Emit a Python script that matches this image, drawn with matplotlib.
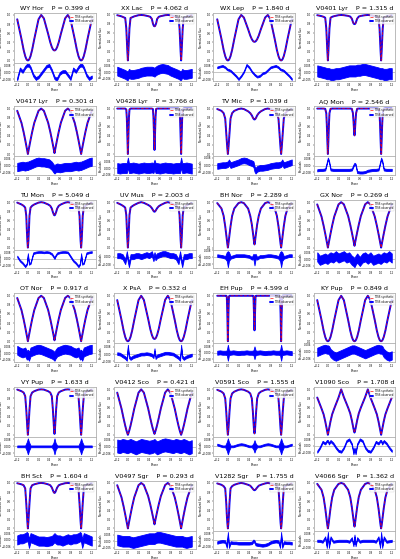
import numpy as np
import matplotlib
matplotlib.use("Agg")
import matplotlib.pyplot as plt

# ---------------- data ----------------
# light curve knots over half a period (mirrored for 0.5..1)
HALF_PHASE = [0, .01, .02, .03, .05, .08, .12, .2, .25, .3, .38, .42, .45, .47, .48, .49, .5]
# residual knots over one full period
RES_PHASE = [0, .02, .05, .1, .15, .2, .25, .3, .35, .4, .45, .48, .5, .52, .55, .6,
             .65, .7, .75, .8, .85, .9, .95, .98, 1]

NAMES = ["WY Hor", "XX Lac", "WX Lep", "V0401 Lyr",
         "V0417 Lyr", "V0428 Lyr", "TV Mic", "AQ Mon",
         "TU Mon", "UV Mus", "BH Nor", "GX Nor",
         "OT Nor", "X PsA", "EH Pup", "KY Pup",
         "VY Pup", "V0412 Sco", "V0591 Sco", "V1090 Sco",
         "BH Sct", "V0497 Sgr", "V1282 Sgr", "V4066 Sgr"]
PERIODS = [0.399, 4.062, 1.840, 1.315,
           0.301, 3.766, 1.039, 2.546,
           5.049, 2.003, 2.289, 0.269,
           0.917, 0.332, 4.599, 0.849,
           1.633, 0.421, 1.555, 1.708,
           1.604, 0.293, 1.755, 1.362]

FLUX_WY_HOR = [0, .004, .016, .035, .095, .232, .469, .905, 1, .926, .586, .401, .294, .247, .232, .223, .22]
FLUX_XX_LAC = [0, .2, .45, .7, .92, .935, .955, .98, .985, .98, .96, .945, .9, .8, .77, .745, .74]
FLUX_WX_LEP = [0, .004, .016, .035, .095, .232, .469, .905, 1, .944, .687, .547, .466, .431, .419, .412, .41]
FLUX_V0401_LYR = [0, .2, .45, .7, .93, .95, .965, .985, .99, .985, .97, .955, .91, .84, .81, .795, .79]
FLUX_V0417_LYR = [0, .063, .125, .187, .309, .482, .685, .951, 1, .952, .691, .492, .323, .203, .143, .082, .02]
FLUX_V0428_LYR = [0, .4, .8, .98, 1, 1, 1, 1, 1, 1, 1, 1, 1, .99, .82, .45, .09]
FLUX_TV_MIC = [0, .12, .28, .45, .78, .9, .95, .99, 1, .99, .94, .9, .85, .8, .78, .765, .76]
FLUX_AQ_MON = [0, .3, .65, .9, .995, 1, 1, 1, 1, 1, 1, 1, .995, .9, .75, .55, .41]
FLUX_TU_MON = [0, .15, .4, .7, .88, .92, .95, .99, 1, .99, .95, .92, .86, .78, .75, .72, .71]
FLUX_UV_MUS = [0, .18, .45, .72, .88, .91, .94, .985, 1, .985, .94, .91, .87, .83, .81, .795, .79]
FLUX_BH_NOR = [0, .08, .18, .28, .47, .7, .86, .98, 1, .98, .86, .7, .51, .33, .24, .14, .07]
FLUX_GX_NOR = [0, .063, .125, .187, .309, .482, .685, .951, 1, .953, .698, .503, .337, .22, .16, .1, .04]
FLUX_OT_NOR = [0, .063, .125, .187, .309, .482, .685, .951, 1, .952, .691, .492, .323, .203, .143, .082, .02]
FLUX_X_PSA = [0, .004, .016, .035, .095, .232, .469, .905, 1, .91, .496, .27, .141, .083, .065, .054, .05]
FLUX_EH_PUP = [0, .6, .98, 1, 1, 1, 1, 1, 1, 1, 1, 1, 1, 1, .995, .62, .24]
FLUX_KY_PUP = [0, .004, .016, .035, .095, .232, .469, .905, 1, .905, .469, .232, .095, .035, .016, .004, 0]
FLUX_VY_PUP = [0, .15, .35, .55, .85, .93, .96, .995, 1, .995, .96, .93, .85, .55, .35, .15, .02]
FLUX_V0412_SCO = [0, .034, .07, .111, .202, .357, .577, .928, 1, .93, .585, .37, .218, .129, .09, .054, .02]
FLUX_V0591_SCO = [0, .12, .3, .5, .8, .91, .95, .99, 1, .99, .95, .91, .8, .5, .3, .12, .03]
FLUX_V1090_SCO = [0, .06, .12, .18, .3, .45, .58, .82, 1, .83, .6, .47, .32, .2, .14, .09, .05]
FLUX_BH_SCT = [0, .15, .35, .55, .88, .95, .97, .995, 1, .995, .97, .95, .9, .84, .81, .79, .78]
FLUX_V0497_SGR = [0, .063, .125, .187, .309, .482, .685, .951, 1, .955, .713, .529, .371, .26, .204, .147, .09]
FLUX_V1282_SGR = [0, .12, .3, .55, .88, .93, .96, .99, 1, .99, .96, .94, .9, .87, .855, .845, .84]
FLUX_V4066_SGR = [0, .07, .16, .26, .45, .68, .85, .98, 1, .98, .85, .69, .47, .29, .2, .11, .04]

# residual centre lines (units of 0.01 flux)
RES_WY_HOR = [.8, .8, .5, -.3, -.7, -.5, -.1, .3, .7, .8, .2, -.3, -.6, -.7, -.7, -.1, .1, .1, -.3, -.7, .4, .1, .6, .8, .8]
RES_XX_LAC = [-.3, -.1, -.2, -.2, -.15, -.1, 0, .05, .1, .1, .1, .05, 0, .1, .2, .3, .35, .3, .25, .1, 0, -.1, -.2, -.3, -.3]
RES_WX_LEP = [.33, .3, .2, -.1, -.4, -.78, -.4, .1, .9, .6, .1, -.1, -.25, -.35, -.5, -.4, -.1, 0, .3, .6, .7, .78, .6, .4, .33]
RES_V0401_LYR = [-.1, -.1, -.15, -.15, -.1, -.1, -.05, 0, .05, .1, .1, .1, .1, .1, .15, .15, .2, .2, .15, .1, .05, 0, -.05, -.1, -.1]
RES_V0417_LYR = [0, .05, .1, .2, .3, .35, .3, .3, .25, .2, 0, -.2, -.3, -.2, -.15, -.2, -.15, -.1, -.1, -.1, -.05, 0, -.05, 0, 0]
RES_V0428_LYR = [.5, 0, 0, .05, 0, -.05, 0, .05, 0, 0, .05, 0, .3, 0, 0, -.05, 0, .05, 0, 0, -.05, 0, 0, 0, .5]
RES_TV_MIC = [.1, .3, 0, .1, .2, .3, .45, .5, .45, .3, .2, .1, -.4, -.6, -.4, -.3, -.3, -.25, -.2, -.1, -.05, 0, 0, .05, .1]
RES_AQ_MON = [.8, .5, -.45, -.5, -.5, -.5, -.5, -.5, -.5, -.5, -.45, 0, .2, .1, -.75, -.8, -.8, -.75, -.6, -.55, -.5, -.5, -.45, .3, .8]
RES_TU_MON = [.6, -.6, -.5, .7, .8, .85, .85, .8, .85, .8, .6, .3, .1, .4, .7, .8, .85, .85, .8, .3, -.2, -.5, -.9, -.6, .6]
RES_UV_MUS = [-.3, -.8, 0, 0, .1, .1, 0, .1, .2, .1, .3, -.2, .2, -.1, .1, .2, .3, .3, .2, .1, .1, 0, -.5, .3, -.3]
RES_BH_NOR = [-.2, .1, 0, .1, .2, .2, .2, .2, .15, .1, -.1, .1, -.3, .1, -.1, .1, .1, .15, .2, .2, .15, .1, 0, .1, -.2]
RES_GX_NOR = [0, .1, .2, .1, .3, .1, .2, .3, .1, .2, -.1, -.2, -.3, -.1, .1, -.2, .1, .2, 0, .2, -.1, 0, .1, 0, 0]
RES_OT_NOR = [-.1, -.3, .1, .2, .3, .35, .3, .2, .1, 0, -.1, -.2, -.3, -.1, .1, .2, .3, .35, .3, .25, .1, 0, .1, -.2, -.1]
RES_X_PSA = [.9, -.3, -.5, -.3, -.2, -.1, 0, 0, .05, 0, -.1, -.3, .5, -.4, -.2, -.1, 0, .1, .1, .05, 0, -.2, -.4, -.6, .9]
RES_EH_PUP = [0, 0, 0, .05, 0, -.05, 0, 0, .05, 0, 0, 0, 0, 0, 0, .05, 0, -.05, 0, 0, .05, 0, 0, 0, 0]
RES_KY_PUP = [.2, .15, -.1, -.3, -.4, -.3, -.2, -.1, 0, .1, .2, .2, .2, .15, .1, 0, -.1, -.2, -.1, 0, .1, .2, .25, .2, .2]
RES_VY_PUP = [0, 0, 0, 0, 0, 0, 0, 0, 0, 0, 0, 0, 0, 0, 0, 0, 0, 0, 0, 0, 0, 0, 0, 0, 0]
RES_V0412_SCO = [0, .05, .1, 0, -.1, 0, .1, .05, 0, -.05, 0, .05, .1, 0, -.1, 0, .1, .15, .1, .05, 0, .1, .05, 0, 0]
RES_V0591_SCO = [0, 0, 0, 0, .1, .2, .25, .2, .1, 0, 0, 0, 0, 0, 0, 0, .1, .2, .25, .2, .1, 0, 0, 0, 0]
RES_V1090_SCO = [.6, .3, .6, .3, -.2, -.6, -.7, -.2, .6, .8, .2, -.9, -.3, -.9, .2, .8, .6, -.2, -.6, -.7, -.2, .5, .3, .6, .6]
RES_BH_SCT = [.2, -.3, .2, .1, 0, -.1, -.1, -.1, -.15, -.1, -.05, .1, .2, .1, 0, 0, -.1, 0, .1, 0, .1, .1, .2, .3, .2]
RES_V0497_SGR = [0, 0, -.05, -.1, -.05, 0, .05, .1, .15, .2, .2, .2, .2, .25, .3, .3, .25, .2, .15, .1, .05, 0, 0, 0, 0]
RES_V1282_SGR = [.8, -.8, -.3, -.35, -.35, -.4, -.4, -.4, -.4, -.4, -.35, -.1, -.2, -.5, -.55, -.6, -.65, -.6, -.5, -.3, -.2, -.15, -.2, -.8, .8]
RES_V4066_SGR = [.9, -.7, .4, -.1, -.05, 0, 0, 0, 0, -.1, .3, -.5, .6, -.5, .3, -.1, 0, 0, 0, 0, 0, -.1, .4, -.7, .9]

# residual scatter half-widths (same units), scalar or per knot
SCAT_BH_NOR = [.9, .5, .15, .15, .15, .15, .15, .15, .15, .15, .15, .3, .6, .3, .15, .15, .15, .15, .15, .15, .15, .15, .15, .5, .9]
SCAT_EH_PUP = [1.0, .3, .25, .25, .25, .25, .25, .25, .25, .25, .25, .3, .8, .3, .25, .25, .25, .25, .25, .25, .25, .25, .25, .3, 1.0]
SCAT_VY_PUP = [.9, .5, .1, .1, .1, .1, .1, .1, .1, .1, .1, .4, .9, .4, .1, .1, .1, .1, .1, .1, .1, .1, .1, .5, .9]
SCAT_V0591_SCO = [.9, .5, .1, .1, .1, .1, .1, .1, .1, .1, .1, .35, .7, .35, .1, .1, .1, .1, .1, .1, .1, .1, .1, .5, .9]
SCATTER = [.15, .4, .1, .4,
           .35, .45, .3, .12,
           .1, .25, SCAT_BH_NOR, .4,
           .4, .15, SCAT_EH_PUP, .35,
           SCAT_VY_PUP, .55, SCAT_V0591_SCO, .12,
           .4, .4, .15, .12]

FLUXES = [FLUX_WY_HOR, FLUX_XX_LAC, FLUX_WX_LEP, FLUX_V0401_LYR,
          FLUX_V0417_LYR, FLUX_V0428_LYR, FLUX_TV_MIC, FLUX_AQ_MON,
          FLUX_TU_MON, FLUX_UV_MUS, FLUX_BH_NOR, FLUX_GX_NOR,
          FLUX_OT_NOR, FLUX_X_PSA, FLUX_EH_PUP, FLUX_KY_PUP,
          FLUX_VY_PUP, FLUX_V0412_SCO, FLUX_V0591_SCO, FLUX_V1090_SCO,
          FLUX_BH_SCT, FLUX_V0497_SGR, FLUX_V1282_SGR, FLUX_V4066_SGR]
RESIDS = [RES_WY_HOR, RES_XX_LAC, RES_WX_LEP, RES_V0401_LYR,
          RES_V0417_LYR, RES_V0428_LYR, RES_TV_MIC, RES_AQ_MON,
          RES_TU_MON, RES_UV_MUS, RES_BH_NOR, RES_GX_NOR,
          RES_OT_NOR, RES_X_PSA, RES_EH_PUP, RES_KY_PUP,
          RES_VY_PUP, RES_V0412_SCO, RES_V0591_SCO, RES_V1090_SCO,
          RES_BH_SCT, RES_V0497_SGR, RES_V1282_SGR, RES_V4066_SGR]
RES_UNIT = 0.01
PHASE_TICKS = [-0.2, 0.0, 0.2, 0.4, 0.6, 0.8, 1.0, 1.2]


def mirror(half_ph, half_v):
    ph = list(half_ph) + [1 - p for p in reversed(half_ph[:-1])]
    v = list(half_v) + list(reversed(half_v[:-1]))
    return np.array(ph), np.array(v, dtype=float)


def repeat(ph, v):
    ph = np.asarray(ph, float)[:-1]
    v = np.asarray(v, float)[:-1]
    P = np.concatenate([ph - 1, ph, ph + 1])
    V = np.tile(v, 3)
    m = (P >= -0.2 - 1e-9) & (P <= 1.2 + 1e-9)
    return P[m], V[m]


fig = plt.figure(figsize=(4.0, 5.59), dpi=100)
W, H = 400.0, 559.0
FS = 1.9
SPINE = "#b0b0b0"
LABEL_X = -0.125

for i, name in enumerate(NAMES):
    r, c = divmod(i, 4)
    left = (13.5 + 100.0 * c) / W
    top = 12.7 + 93.6 * r
    h1, h2, wpx = 50.0, 18.5, 82.0
    ax1 = fig.add_axes([left, 1 - (top + h1) / H, wpx / W, h1 / H])
    ax2 = fig.add_axes([left, 1 - (top + h1 + h2) / H, wpx / W, h2 / H], sharex=ax1)

    ph, fl = mirror(HALF_PHASE, FLUXES[i])
    P, F = repeat(ph, fl)
    ax1.plot(P, F, color="blue", lw=1.4, solid_capstyle="round",
             label="TESS observed", zorder=2)
    ax1.plot(P, F, color="red", lw=0.6, ls="--", alpha=0.8,
             label="TESS synthetic", zorder=3)
    ax1.set_title(f"{name}    P = {PERIODS[i]:.3f} d", fontsize=4.6, pad=2.3)
    ax1.set_ylabel("Normalized flux", fontsize=FS)
    ax1.yaxis.set_label_coords(LABEL_X, 0.5)
    ax1.tick_params(labelbottom=False, labelsize=FS, length=1, width=0.3, pad=0.6)
    h, l = ax1.get_legend_handles_labels()
    leg = ax1.legend([h[1], h[0]], [l[1], l[0]], loc="upper right",
                     fontsize=FS, handlelength=1.0, borderpad=0.25,
                     labelspacing=0.15, handletextpad=0.4, framealpha=0.8)
    leg.get_frame().set_linewidth(0.3)

    rp, rv = repeat(RES_PHASE, RESIDS[i])
    sc = np.broadcast_to(np.asarray(SCATTER[i], float), (len(RES_PHASE),))
    _, sv = repeat(RES_PHASE, sc)
    rv = rv * RES_UNIT
    sv = sv * RES_UNIT
    ax2.fill_between(rp, rv - sv, rv + sv, color="blue", lw=0.6, edgecolor="blue")
    ax2.axhline(0, color="#999999", lw=0.4, zorder=0)
    ax2.margins(y=0.08)
    ax2.set_ylabel("Residuals", fontsize=FS)
    ax2.yaxis.set_label_coords(LABEL_X, 0.5)
    ax2.set_xlabel("Phase", fontsize=FS, labelpad=0.6)
    ax2.set_xticks(PHASE_TICKS)
    ax2.tick_params(labelsize=FS, length=1, width=0.3, pad=0.6)
    ax2.yaxis.set_major_locator(plt.MaxNLocator(3))
    ax1.set_xlim(-0.27, 1.27)

    for ax in (ax1, ax2):
        for s in ax.spines.values():
            s.set_color(SPINE)
            s.set_linewidth(0.6)

fig.savefig("out.png", dpi=100)
